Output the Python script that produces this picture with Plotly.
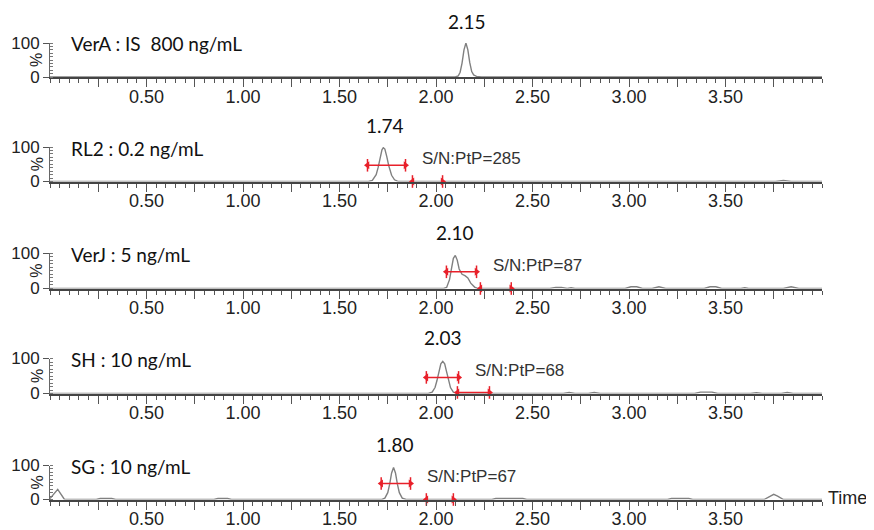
import plotly.graph_objects as go

# ---------------- data ----------------
panel_labels = ["VerA : IS\u00a0\u00a0800 ng/mL", "RL2 : 0.2 ng/mL", "VerJ : 5 ng/mL",
                "SH : 10 ng/mL", "SG : 10 ng/mL"]
peak_labels = ["2.15", "1.74", "2.10", "2.03", "1.80"]
peak_label_time = [2.16, 1.735, 2.10, 2.035, 1.785]
sn_labels = [None, "S/N:PtP=285", "S/N:PtP=87", "S/N:PtP=68", "S/N:PtP=67"]

# chromatogram traces (time in min, intensity in %)
vera_t = [0.0, 2.10, 2.115, 2.125, 2.135, 2.145, 2.155, 2.165, 2.175, 2.185, 2.195, 2.21, 2.235, 4.0]
vera_y = [0, 0, 3, 14, 41, 80, 100, 80, 42, 16, 6, 2, 0, 0]

rl2_t = [0.0, 0.57, 0.60, 0.63, 1.00, 1.03, 1.06, 1.65, 1.67, 1.69, 1.70, 1.71, 1.72, 1.727,
         1.735, 1.745, 1.755, 1.77, 1.785, 1.80, 1.815, 3.76, 3.80, 3.84, 4.0]
rl2_y = [0, 0, 2, 0, 0, 2, 0, 0, 3, 20, 40, 66, 92, 98, 94, 72, 46, 18, 5, 1, 0, 0, 3, 0, 0]

verj_t = [0.0, 0.33, 0.36, 0.39, 2.04, 2.055, 2.07, 2.08, 2.09, 2.10, 2.11, 2.12, 2.135, 2.15,
          2.165, 2.18, 2.20, 2.215, 2.59, 2.62, 2.65, 2.68, 2.70, 2.72, 2.98, 3.01, 3.04,
          3.07, 3.12, 3.155, 3.19, 3.39, 3.42, 3.45, 3.48, 3.58, 3.60, 3.62, 3.80, 3.84, 3.88, 4.0]
verj_y = [0, 0, 2, 0, 0, 3, 25, 55, 85, 93, 80, 55, 40, 36,
          30, 15, 4, 0, 0, 3, 3, 0, 2, 0, 0, 5, 5,
          0, 0, 5, 0, 0, 5, 5, 0, 0, 2, 0, 0, 5, 0, 0]

sh_t = [0.0, 1.21, 1.24, 1.27, 1.96, 1.98, 1.995, 2.005, 2.015, 2.025, 2.035, 2.045, 2.055,
        2.065, 2.075, 2.09, 2.11, 2.66, 2.69, 2.72, 2.79, 2.82, 2.85, 3.34, 3.37, 3.43,
        3.46, 3.63, 3.66, 3.69, 3.79, 3.82, 3.85, 4.0]
sh_y = [0, 0, 2, 0, 0, 4, 17, 37, 62, 85, 92, 85, 62,
        37, 17, 4, 0, 0, 3, 0, 0, 3, 0, 0, 4, 4,
        0, 0, 2, 0, 0, 3, 0, 0]

sg_t = [0.0, 0.04, 0.075, 0.24, 0.26, 0.32, 0.34, 0.85, 0.87, 0.92, 0.94, 1.72, 1.735, 1.75,
        1.76, 1.77, 1.78, 1.79, 1.80, 1.81, 1.825, 1.845, 2.29, 2.31, 2.45, 2.47, 3.20,
        3.22, 3.31, 3.33, 3.70, 3.73, 3.75, 3.77, 3.80, 4.0]
sg_y = [3, 30, 0, 0, 3, 3, 0, 0, 3, 3, 0, 0, 4, 20,
        45, 78, 94, 78, 45, 20, 4, 0, 0, 3, 3, 0, 0,
        3, 3, 0, 0, 10, 15, 10, 0, 0]

traces_t = [vera_t, rl2_t, verj_t, sh_t, sg_t]
traces_y = [vera_y, rl2_y, verj_y, sh_y, sg_y]

# S/N peak-width arrows (start, end, height %) and noise windows (start, end, height %)
sn_width = [None, (1.645, 1.842, 47), (2.054, 2.21, 47), (1.95, 2.117, 46), (1.716, 1.868, 47)]
sn_noise = [None, (1.878, 2.034, 0), (2.23, 2.39, 0), (2.111, 2.277, 3), (1.95, 2.09, 0)]
sn_noise_line_visible = [None, False, False, True, False]

x_tick_vals = [0.25, 0.50, 0.75, 1.00, 1.25, 1.50, 1.75, 2.00, 2.25, 2.50, 2.75, 3.00, 3.25, 3.50, 3.75]
x_tick_text = ["", "0.50", "", "1.00", "", "1.50", "", "2.00", "", "2.50", "", "3.00", "", "3.50", ""]

# ---------------- layout geometry (pixels) ----------------
W, H = 874, 530
OFF = 8  # page body offset
ML = 50 - OFF
PW = 772
MR = W - ML - PW
panel_px = [(77, 43), (181.5, 147), (288.5, 253), (393.5, 358.5), (499.5, 465.5)]  # (y of 0, y of 100)


def px2x(px):
    return (px - OFF - ML) / PW


def py2y(py):
    return (H - (py - OFF)) / H


fig = go.Figure()
RED = "#e8202a"
GREY = "#808080"
annotations = []
layout = {}


def add_arrow(xa, ya, a, b, h, show_line):
    fig.add_trace(go.Scatter(x=[a, b], y=[h, h], mode="lines+markers" if show_line else "markers",
                             line=dict(color=RED, width=1.5),
                             marker=dict(symbol=["triangle-left", "triangle-right"], size=7, color=RED),
                             xaxis=xa, yaxis=ya, cliponaxis=False, hoverinfo="skip", showlegend=False))
    fig.add_trace(go.Scatter(x=[a, b], y=[h, h], mode="markers",
                             marker=dict(symbol="line-ns-open", size=9, color=RED,
                                         line=dict(color=RED, width=1.5)),
                             xaxis=xa, yaxis=ya, cliponaxis=False, hoverinfo="skip", showlegend=False))


for i in range(5):
    n = "" if i == 0 else str(i + 1)
    xa, ya = "x" + n, "y" + n
    fig.add_trace(go.Scatter(x=traces_t[i], y=traces_y[i], mode="lines",
                             line=dict(color=GREY, width=1.4), xaxis=xa, yaxis=ya,
                             hoverinfo="skip", showlegend=False))
    if sn_width[i] is not None:
        a, b, h = sn_width[i]
        add_arrow(xa, ya, a, b, h, True)
        a, b, h = sn_noise[i]
        add_arrow(xa, ya, a, b, h, sn_noise_line_visible[i])

    y0px, y100px = panel_px[i]
    layout["xaxis" + n] = dict(
        domain=[0, 1], range=[0, 4.0], anchor=ya, showline=True, linecolor="#444", linewidth=2,
        showgrid=False, zeroline=False, tickmode="array", tickvals=x_tick_vals, ticktext=x_tick_text,
        ticks="outside", ticklen=8, tickwidth=1.2, tickcolor="#555", automargin=False,
        ticklabelstandoff=-6,
        tickfont=dict(family="Liberation Sans, Arial", size=18, color="#222"),
        minor=dict(ticks="outside", dtick=0.05, tick0=0, ticklen=4, tickwidth=1, tickcolor="#555"),
        fixedrange=True)
    layout["yaxis" + n] = dict(
        domain=[py2y(y0px), py2y(y100px)], range=[0, 100], anchor=xa, showline=True,
        linecolor="#666", linewidth=1, showgrid=False, zeroline=False, automargin=False,
        tickmode="array", tickvals=[0, 100], ticktext=["0", "100"], ticks="outside", ticklen=6,
        tickcolor="#555", tickfont=dict(family="Liberation Sans, Arial", size=17, color="#222"),
        ticklabelstandoff=0,
        minor=dict(ticks="inside", dtick=10, tick0=0, ticklen=3, tickwidth=1, tickcolor="#777"),
        fixedrange=True)

    # labels
    annotations.append(dict(text=panel_labels[i], x=px2x(69), y=py2y(y100px + 1), xref="paper", yref="paper",
                            xanchor="left", yanchor="middle", showarrow=False,
                            font=dict(family="Lato", size=19, color="#111")))
    annotations.append(dict(text="%", x=px2x(37), y=py2y((y0px + y100px) / 2), xref="paper", yref="paper",
                            xanchor="center", yanchor="middle", showarrow=False, textangle=-90,
                            font=dict(family="Liberation Sans, Arial", size=16, color="#222")))
    annotations.append(dict(text=peak_labels[i], x=peak_label_time[i], xref=xa, y=py2y(y100px - 21),
                            yref="paper", xanchor="center", yanchor="middle", showarrow=False,
                            font=dict(family="Lato", size=19, color="#111")))
    if sn_labels[i] is not None:
        annotations.append(dict(text=sn_labels[i], x=sn_width[i][1] + 0.075, xref=xa,
                                y=py2y(y0px - 23), yref="paper", xanchor="left", yanchor="middle",
                                showarrow=False,
                                font=dict(family="Liberation Sans, Arial", size=17, color="#333")))

annotations.append(dict(text="Time", x=px2x(826), y=py2y(498), xref="paper", yref="paper",
                        xanchor="left", yanchor="middle", showarrow=False,
                        font=dict(family="Liberation Sans, Arial", size=18, color="#222")))

fig.update_layout(width=W, height=H, margin=dict(l=ML, r=MR, t=0, b=0, autoexpand=False),
                  paper_bgcolor="white", plot_bgcolor="white", annotations=annotations,
                  showlegend=False, **layout)
fig.write_html("out.html", config={"displayModeBar": False})
